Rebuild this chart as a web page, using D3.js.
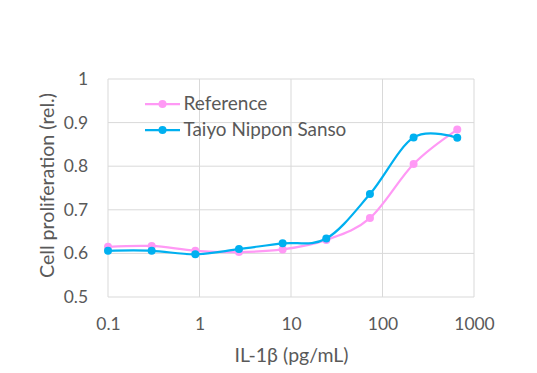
<!DOCTYPE html>
<html>
<head>
<meta charset="utf-8">
<script src="https://cdn.jsdelivr.net/npm/d3@7"></script>
<style>
  body { margin: 0; background: #fff; }
  text { font-family: "Lato", "Open Sans", sans-serif; fill: #595959; }
</style>
</head>
<body>
<div id="chart-container"></div>
<script>
// concentrations (pg/mL), 3-fold dilution series
var conc = [0.1, 0.3, 0.9, 2.7, 8.1, 24.3, 72.9, 218.7, 656.1];
var refValues = [0.615, 0.617, 0.606, 0.603, 0.609, 0.631, 0.681, 0.805, 0.884];
var tnsValues = [0.606, 0.606, 0.598, 0.610, 0.623, 0.634, 0.736, 0.866, 0.865];
var xTicks = [0.1, 1, 10, 100, 1000];
var yTicks = [0.5, 0.6, 0.7, 0.8, 0.9, 1];
var seriesNames = ["Reference", "Taiyo Nippon Sanso"];
var seriesColors = ["#FF99F5", "#00B0F0"];

var W = 537, H = 373;
var margin = {left: 108, right: 63, top: 79, bottom: 76};
var width = W - margin.left - margin.right,
    height = H - margin.top - margin.bottom;

// scale font so a text gets the width it has in the picture
function fitWidth(sel, target) {
    var fs = parseFloat(sel.style("font-size"));
    var w = sel.node().getComputedTextLength();
    sel.style("font-size", (fs * target / w) + "px");
    return fs * target / w;
}

var svg = d3.select("#chart-container")
    .append("svg")
    .attr("width", W)
    .attr("height", H)
    .append("g")
    .attr("transform", "translate(" + margin.left + "," + margin.top + ")");

var x = d3.scaleLog().domain([0.1, 1000]).range([0, width]);
var y = d3.scaleLinear().domain([0.5, 1]).range([height, 0]);

// gridlines
svg.append("g").selectAll("line.h")
    .data(yTicks).enter().append("line")
    .attr("x1", 0).attr("x2", width)
    .attr("y1", function(d) { return y(d); })
    .attr("y2", function(d) { return y(d); })
    .attr("stroke", "#D9D9D9").attr("stroke-width", 1);
svg.append("g").selectAll("line.v")
    .data(xTicks).enter().append("line")
    .attr("x1", function(d) { return x(d); })
    .attr("x2", function(d) { return x(d); })
    .attr("y1", 0).attr("y2", height)
    .attr("stroke", "#D9D9D9").attr("stroke-width", 1);

// axes (labels only)
var xAxis = svg.append("g")
    .attr("transform", "translate(0," + height + ")")
    .call(d3.axisBottom(x).tickValues(xTicks).tickFormat(d3.format("~g")).tickSize(0).tickPadding(21));
var yAxis = svg.append("g")
    .call(d3.axisLeft(y).tickValues(yTicks).tickFormat(d3.format("~g")).tickSize(0).tickPadding(20));
xAxis.selectAll("text").style("font-size", "18px");
var tickFs = fitWidth(xAxis.selectAll("text").filter(function(d) { return d === 1000; }), 40.5);
[xAxis, yAxis].forEach(function(a) {
    a.select(".domain").remove();
    a.selectAll("text").style("font-size", tickFs + "px").attr("fill", "#595959");
});
xAxis.selectAll("text").attr("dy", null).attr("y", 33);

// titles
var xTitle = svg.append("text")
    .attr("x", width / 2 + 0.5)
    .attr("y", height + 65)
    .attr("text-anchor", "middle")
    .style("font-size", "18px")
    .text("IL-1β (pg/mL)");
fitWidth(xTitle, 114);
var yTitle = svg.append("text")
    .attr("transform", "rotate(-90)")
    .attr("x", -106.5)
    .attr("y", -54)
    .attr("text-anchor", "middle")
    .style("font-size", "16px")
    .text("Cell proliferation (rel.)");
fitWidth(yTitle, 185);

// lines
var line = d3.line()
    .curve(d3.curveCardinal.tension(0))
    .x(function(d) { return x(d[0]); })
    .y(function(d) { return y(d[1]); });

[refValues, tnsValues].forEach(function(vals, i) {
    var pts = conc.map(function(c, j) { return [c, vals[j]]; });
    svg.append("path")
        .datum(pts)
        .attr("fill", "none")
        .attr("stroke", seriesColors[i])
        .attr("stroke-width", 2.25)
        .attr("d", line);
    svg.append("g").selectAll("circle")
        .data(pts).enter().append("circle")
        .attr("cx", function(d) { return x(d[0]); })
        .attr("cy", function(d) { return y(d[1]); })
        .attr("r", 4)
        .attr("fill", seriesColors[i]);
});

// legend
var legend = svg.append("g").attr("transform", "translate(37,25)");
var legWidths = [84, 163];
seriesNames.forEach(function(name, i) {
    var g = legend.append("g").attr("transform", "translate(0," + (i * 26) + ")");
    g.append("line").attr("x1", 0).attr("x2", 35).attr("y1", 0).attr("y2", 0)
        .attr("stroke", seriesColors[i]).attr("stroke-width", 2.25);
    g.append("circle").attr("cx", 17.5).attr("cy", 0).attr("r", 4).attr("fill", seriesColors[i]);
    var t = g.append("text").attr("x", 38.5).attr("y", 6.3)
        .style("font-size", "18px")
        .text(name);
    fitWidth(t, legWidths[i]);
});
</script>
</body>
</html>
